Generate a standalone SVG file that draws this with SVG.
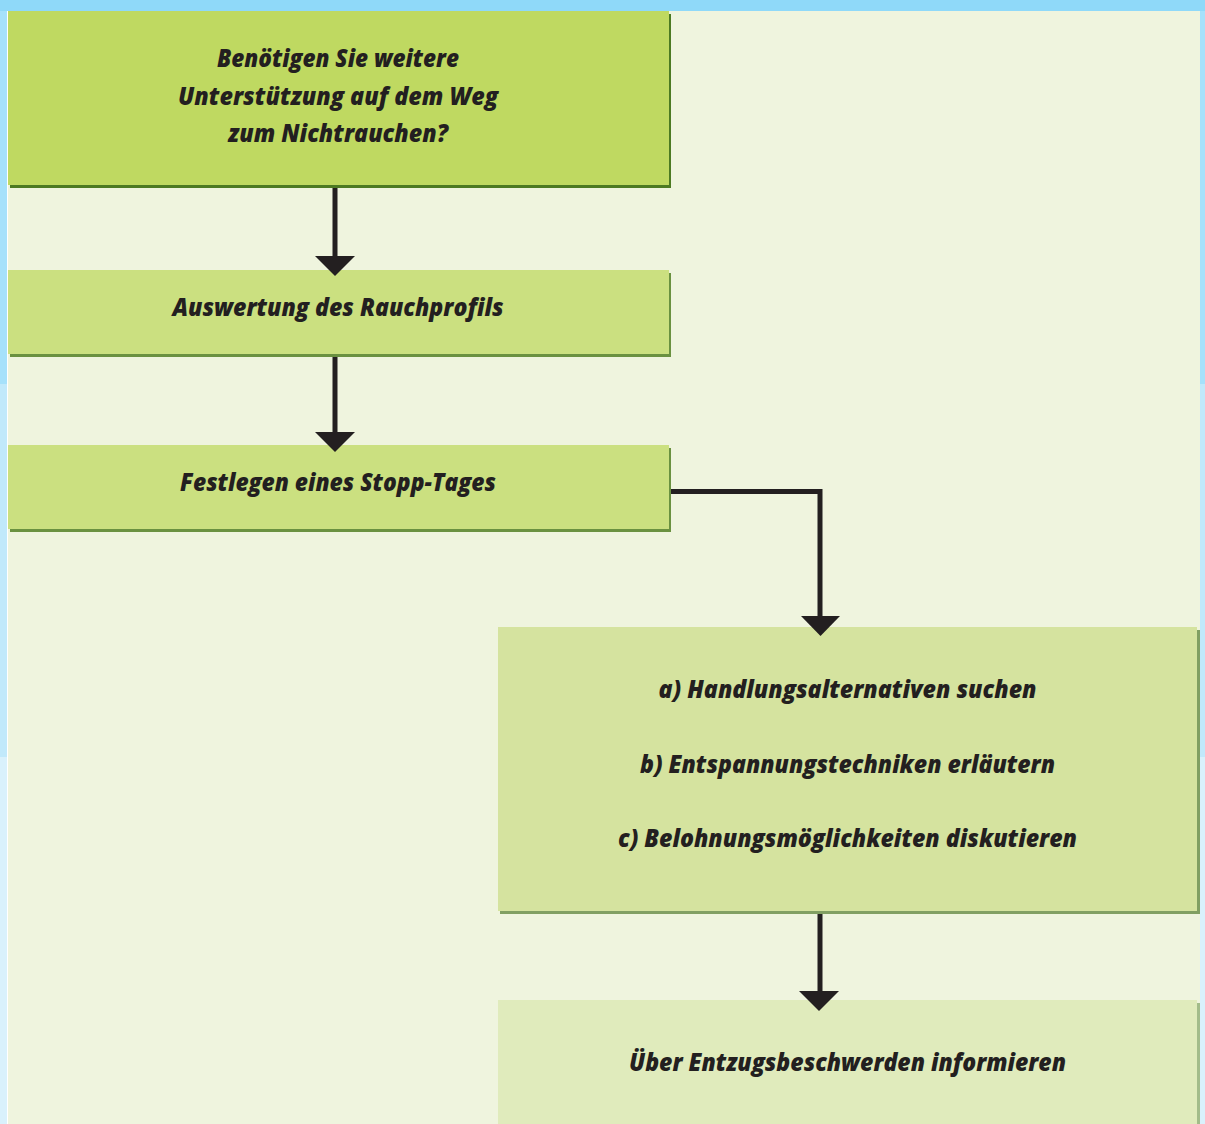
<svg xmlns="http://www.w3.org/2000/svg" width="1205" height="1124" viewBox="0 0 1205 1124">
<style>
.t{font-family:"Open Sans","Noto Sans","Liberation Sans",sans-serif;font-weight:800;font-style:italic;font-size:25px;fill:#231F20;text-anchor:middle}
.ln{stroke:#231F20;stroke-width:5;fill:none}
.hd{fill:#231F20}
</style>
<rect x="0" y="0" width="1205" height="1124" fill="#D9F1FC"/>
<rect x="0" y="0" width="1205" height="384" fill="#A6E1FB"/>
<rect x="0" y="384" width="1205" height="373" fill="#C1E9FB"/>
<rect x="0" y="0" width="1205" height="11" fill="#8FD9F9"/>
<rect x="7" y="11" width="1" height="1113" fill="#FFFFFF"/>
<rect x="8" y="11" width="1192" height="1113" fill="#EFF4DE"/>
<g id="n1">
<rect x="10" y="14" width="661" height="174" fill="#4C7A22"/>
<rect x="8" y="11" width="661" height="174" fill="#BFD961"/>
<text class="t" x="338" y="67" textLength="242" lengthAdjust="spacingAndGlyphs">Benötigen Sie weitere</text>
<text class="t" x="338" y="104.5" textLength="320" lengthAdjust="spacingAndGlyphs">Unterstützung auf dem Weg</text>
<text class="t" x="338" y="142" textLength="220" lengthAdjust="spacingAndGlyphs">zum Nichtrauchen?</text>
</g>
<g id="n2">
<rect x="10" y="273" width="661" height="84" fill="#6A9140"/>
<rect x="8" y="270" width="661" height="84" fill="#CBE080"/>
<text class="t" x="338" y="316" textLength="331" lengthAdjust="spacingAndGlyphs">Auswertung des Rauchprofils</text>
</g>
<g id="n3">
<rect x="10" y="448" width="661" height="84" fill="#6A9140"/>
<rect x="8" y="445" width="661" height="84" fill="#CBE080"/>
<text class="t" x="338" y="491" textLength="316" lengthAdjust="spacingAndGlyphs">Festlegen eines Stopp-Tages</text>
</g>
<g id="n4">
<rect x="500" y="630" width="700" height="284" fill="#819F62"/>
<rect x="498" y="627" width="699" height="284" fill="#D5E39F"/>
<text class="t" x="847.5" y="698" textLength="378" lengthAdjust="spacingAndGlyphs">a) Handlungsalternativen suchen</text>
<text class="t" x="847.5" y="773" textLength="415" lengthAdjust="spacingAndGlyphs">b) Entspannungstechniken erläutern</text>
<text class="t" x="847.5" y="847" textLength="459" lengthAdjust="spacingAndGlyphs">c) Belohnungsmöglichkeiten diskutieren</text>
</g>
<g id="n5">
<rect x="500" y="1003" width="700" height="130" fill="#A3BC8A"/>
<rect x="498" y="1000" width="699" height="130" fill="#E0EBBC"/>
<text class="t" x="847.5" y="1071" textLength="437" lengthAdjust="spacingAndGlyphs">Über Entzugsbeschwerden informieren</text>
</g>
<g id="connectors">
<line class="ln" x1="335" y1="188" x2="335" y2="258"/>
<polygon class="hd" points="315,256 355,256 335,276"/>
<line class="ln" x1="335" y1="357" x2="335" y2="434"/>
<polygon class="hd" points="315,432 355,432 335,452"/>
<polyline class="ln" points="671,491.5 820,491.5 820,618"/>
<polygon class="hd" points="801,616 840,616 820.5,636"/>
<line class="ln" x1="820" y1="914" x2="820" y2="993"/>
<polygon class="hd" points="799,991 839,991 819,1011"/>
</g>
</svg>
